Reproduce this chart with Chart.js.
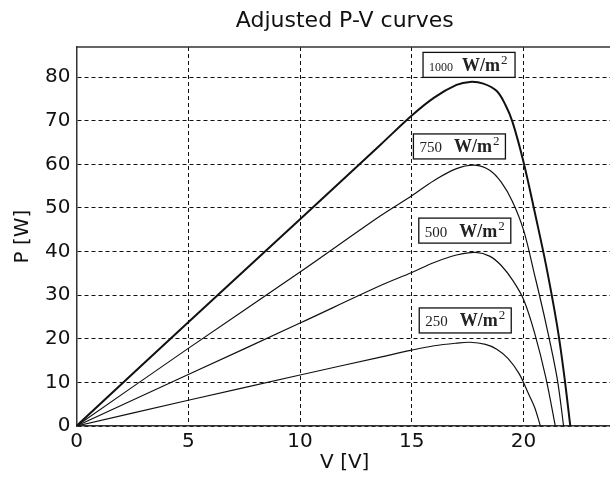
<!DOCTYPE html>
<html>
<head>
<meta charset="utf-8">
<title>Adjusted P-V curves</title>
<script src="https://cdn.jsdelivr.net/npm/chart.js@4.4.1/dist/chart.umd.min.js"></script>
<style>
  html, body { margin: 0; padding: 0; background: #fff; overflow: hidden; }
  #wrap { width: 613px; height: 477px; position: relative; }
</style>
</head>
<body>
<div id="wrap"><canvas id="pvChart"></canvas></div>
<script>
// irradiance levels, W/m2
const irradiance = [1000, 750, 500, 250];

// voltage (V) / power (W), one pair of arrays per curve
const v1000 = [0, 5, 10, 13.6, 15, 16, 17, 17.6, 18.2, 18.8, 19.2, 19.5, 20, 20.5, 21, 21.5, 21.8, 22.09];
const p1000 = [0, 23.8, 47.4, 64.5, 71.2, 75.3, 78.2, 78.9, 78.5, 76.8, 73.5, 69.8, 60.5, 49, 37, 23, 12.3, 0];

const v750 = [0, 5, 10, 13.6, 15, 16, 17, 17.8, 18.5, 19, 19.5, 20, 20.5, 21, 21.5, 21.79];
const p750 = [0, 17.8, 35.3, 48.2, 52.8, 56.3, 59.0, 59.8, 58.6, 55.9, 51.5, 44.9, 34.5, 23.5, 11, 0];

const v500 = [0, 5, 10, 13.6, 15, 16, 17, 17.85, 18.5, 19, 19.5, 20, 20.5, 21, 21.42];
const p500 = [0, 11.8, 23.6, 32.2, 35.2, 37.5, 39.2, 39.8, 38.9, 36.8, 33.5, 29, 21.2, 11, 0];

const v250 = [0, 5, 10, 13.6, 15, 16, 17, 17.6, 18.3, 18.8, 19.3, 19.8, 20.2, 20.5, 20.75];
const p250 = [0, 5.9, 11.7, 15.8, 17.4, 18.4, 19.0, 19.2, 18.7, 17.6, 15.5, 12, 7.6, 4.2, 0];

// axis ticks
const xTicks = [0, 5, 10, 15, 20];
const yTicks = [0, 10, 20, 30, 40, 50, 60, 70, 80];

const chartTitle = 'Adjusted P-V curves';

const curves = [
    { v: v1000, p: p1000, width: 2 },
    { v: v750, p: p750, width: 1.2 },
    { v: v500, p: p500, width: 1.2 },
    { v: v250, p: p250, width: 1.2 }
];

// where each irradiance tag sits, in data units (box centre)
const tagSpots = [
    { V: 17.56, P: 82.8, small: true },
    { V: 17.13, P: 64.1 },
    { V: 17.37, P: 44.8 },
    { V: 17.39, P: 24.2 }
];

const SANS = '"DejaVu Sans", "Liberation Sans", Arial, sans-serif';
const SERIF = '"Liberation Serif", "DejaVu Serif", serif';

// frame on top of the plot, boxed irradiance labels, title centred on the plot
const framePlugin = {
    id: 'frame',
    afterDatasetsDraw(chart) {
        const { ctx, chartArea: a, scales: { x, y } } = chart;
        ctx.save();

        tagSpots.forEach((t, i) => {
            const cx = x.getPixelForValue(t.V);
            const cy = y.getPixelForValue(t.P);
            const w = 92, h = 25;
            ctx.fillStyle = '#fff';
            ctx.fillRect(cx - w / 2, cy - h / 2, w, h);
            ctx.strokeStyle = '#111';
            ctx.lineWidth = 1.3;
            ctx.strokeRect(cx - w / 2, cy - h / 2, w, h);

            ctx.fillStyle = '#222';
            ctx.textBaseline = 'alphabetic';
            ctx.textAlign = 'left';
            let tx = cx - w / 2 + 6;
            const base = cy + 6;
            ctx.font = (t.small ? '12px ' : '15px ') + SERIF;
            const num = String(irradiance[i]);
            ctx.fillText(num, tx, base);
            tx += ctx.measureText(num).width + (t.small ? 9 : 12);
            ctx.font = 'bold 18px ' + SERIF;
            ctx.fillText('W/m', tx, base);
            tx += ctx.measureText('W/m').width + 1;
            ctx.font = '13px ' + SERIF;
            ctx.fillText('2', tx, base - 7);
        });

        ctx.strokeStyle = '#333';
        ctx.lineWidth = 1.5;
        ctx.beginPath();
        ctx.moveTo(a.left, a.top);
        ctx.lineTo(a.right, a.top);
        ctx.stroke();

        ctx.fillStyle = '#111';
        ctx.font = '22px ' + SANS;
        ctx.textAlign = 'center';
        ctx.textBaseline = 'alphabetic';
        ctx.fillText(chartTitle, (a.left + a.right) / 2, 26.5);
        ctx.restore();
    }
};

const ctx = document.getElementById('pvChart').getContext('2d');
new Chart(ctx, {
    type: 'line',
    data: {
        datasets: curves.map((c, i) => ({
            label: irradiance[i] + ' W/m²',
            data: c.v.map((v, k) => ({ x: v, y: c.p[k] })),
            borderColor: '#111',
            borderWidth: c.width,
            pointRadius: 0,
            fill: false,
            tension: 0.35
        }))
    },
    options: {
        responsive: true,
        maintainAspectRatio: false,
        animation: false,
        layout: { padding: 0 },
        plugins: {
            legend: { display: false },
            tooltip: { enabled: false },
            // keeps the room at the top; the visible title is drawn by framePlugin
            title: {
                display: true,
                text: chartTitle,
                color: 'rgba(0,0,0,0)',
                font: { family: SANS, size: 20, weight: 'normal' },
                padding: { top: 7, bottom: 16 }
            }
        },
        scales: {
            x: {
                type: 'linear',
                min: 0,
                max: 24,
                afterBuildTicks: s => { s.ticks = xTicks.map(v => ({ value: v })); },
                afterFit: s => { s.height = 51; },
                ticks: {
                    color: '#111',
                    padding: 4,
                    font: { family: SANS, size: 20 },
                    maxRotation: 0
                },
                grid: { color: '#111', lineWidth: 1, drawTicks: false },
                border: { display: true, color: '#333', width: 1.5, dash: [4, 3] },
                title: {
                    display: true,
                    text: 'V [V]',
                    color: '#111',
                    font: { family: SANS, size: 20 },
                    padding: { top: 0, bottom: 2 }
                }
            },
            y: {
                type: 'linear',
                min: 0,
                max: 86.9,
                afterBuildTicks: s => { s.ticks = yTicks.map(v => ({ value: v })); },
                afterFit: s => { s.width = 76.5; },
                ticks: {
                    color: '#111',
                    padding: 6,
                    font: { family: SANS, size: 20 }
                },
                grid: { color: '#111', lineWidth: 1, drawTicks: false },
                border: { display: true, color: '#333', width: 1.5, dash: [4, 3] },
                title: {
                    display: true,
                    text: 'P [W]',
                    color: '#111',
                    font: { family: SANS, size: 20 },
                    padding: { top: 11, bottom: 0 }
                }
            }
        }
    },
    plugins: [framePlugin]
});
</script>
</body>
</html>
